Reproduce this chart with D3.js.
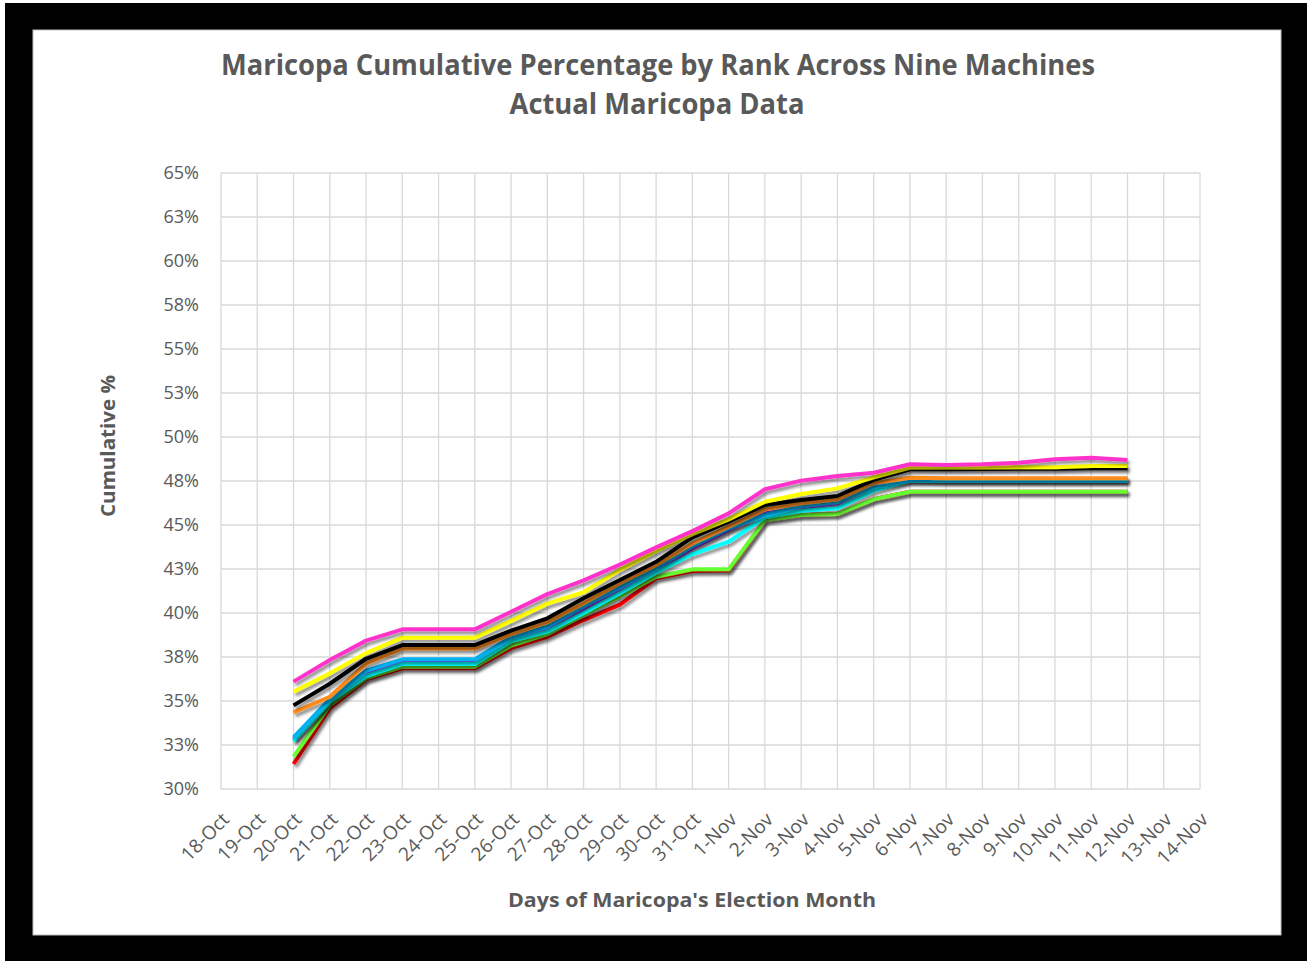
<!DOCTYPE html>
<html lang="en">
<head>
<meta charset="utf-8" />
<title>Maricopa Cumulative Percentage by Rank</title>
<style>
html,body{margin:0;background:#fff}
svg{display:block}
.tick text{font-family:"Open Sans",sans-serif;fill:#595959}
</style>
<script src="https://cdn.jsdelivr.net/npm/d3@7/dist/d3.min.js"></script>
</head>
<body>
<div id="chart"></div>
<script>
/* ---------------------------- data ------------------------------------ */
const dates = ["18-Oct","19-Oct","20-Oct","21-Oct","22-Oct","23-Oct","24-Oct","25-Oct",
  "26-Oct","27-Oct","28-Oct","29-Oct","30-Oct","31-Oct","1-Nov","2-Nov","3-Nov","4-Nov",
  "5-Nov","6-Nov","7-Nov","8-Nov","9-Nov","10-Nov","11-Nov","12-Nov","13-Nov","14-Nov"];

// series run 20-Oct .. 12-Nov
const seriesDates = dates.slice(2, 26);

const yTicks = [30, 32.5, 35, 37.5, 40, 42.5, 45, 47.5, 50, 52.5, 55, 57.5, 60, 62.5, 65];

const rank9 = [31.42, 34.58, 36.23, 36.86, 36.86, 36.86, 38.0, 38.65, 39.6, 40.48, 41.97, 42.38, 42.42,
  45.28, 45.57, 45.63, 46.46, 46.89, 46.89, 46.89, 46.89, 46.89, 46.89, 46.89];
const rank8 = [31.84, 34.77, 36.3, 36.95, 36.95, 36.95, 38.15, 38.8, 39.9, 40.95, 42.06, 42.48, 42.48,
  45.28, 45.57, 45.63, 46.46, 46.89, 46.89, 46.89, 46.89, 46.89, 46.89, 46.89];
const rank7 = [32.72, 34.96, 36.42, 37.1, 37.1, 37.1, 38.4, 38.94, 40.0, 41.12, 42.3, 43.35, 44.05,
  45.44, 45.81, 45.95, 46.95, 47.52, 47.5, 47.5, 47.5, 47.5, 47.5, 47.5];
const rank6 = [32.8, 34.98, 36.57, 37.3, 37.3, 37.3, 38.55, 39.15, 40.22, 41.3, 42.44, 43.68, 44.72,
  45.66, 46.0, 46.23, 47.27, 47.62, 47.6, 47.6, 47.6, 47.6, 47.6, 47.6];
const rank5 = [32.94, 35.1, 36.72, 37.37, 37.37, 37.37, 38.62, 39.22, 40.38, 41.45, 42.54, 43.8, 44.8,
  45.57, 46.08, 46.3, 47.18, 47.55, 47.53, 47.53, 47.53, 47.53, 47.53, 47.53];
const rank4 = [34.35, 35.24, 37.12, 37.99, 37.99, 37.99, 38.78, 39.48, 40.55, 41.69, 42.73, 43.95, 44.9,
  45.89, 46.23, 46.46, 47.37, 47.68, 47.66, 47.66, 47.66, 47.66, 47.66, 47.66];
const rank3 = [34.75, 35.98, 37.4, 38.18, 38.18, 38.18, 39.0, 39.7, 40.84, 41.88, 42.91, 44.3, 45.19,
  46.14, 46.42, 46.65, 47.56, 48.17, 48.17, 48.18, 48.19, 48.2, 48.22, 48.22];
const rank2 = [35.53, 36.57, 37.72, 38.6, 38.6, 38.6, 39.55, 40.53, 41.18, 42.45, 43.52, 44.48, 45.32,
  46.32, 46.76, 47.08, 47.71, 48.26, 48.26, 48.27, 48.28, 48.28, 48.35, 48.35];
const rank1 = [36.1, 37.33, 38.43, 39.07, 39.07, 39.07, 40.07, 41.07, 41.85, 42.75, 43.73, 44.65, 45.66,
  47.03, 47.52, 47.78, 47.97, 48.45, 48.41, 48.45, 48.54, 48.73, 48.82, 48.69];

// bottom-most drawn first
const series = [
  {name: "Rank 9", color: "#ff0000", values: rank9},
  {name: "Rank 8", color: "#66ff33", values: rank8},
  {name: "Rank 6", color: "#9933ff", values: rank6},
  {name: "Rank 7", color: "#00ffff", values: rank7},
  {name: "Rank 5", color: "#00b0f0", values: rank5},
  {name: "Rank 4", color: "#ff8c1a", values: rank4},
  {name: "Rank 3", color: "#000000", values: rank3},
  {name: "Rank 2", color: "#ffff00", values: rank2},
  {name: "Rank 1", color: "#ff33cc", values: rank1}
];

/* ---------------------------- layout ---------------------------------- */
const W = 1312, H = 961;
const plot = {left: 221, right: 1200, top: 173, bottom: 789};

const svg = d3.select("#chart").append("svg")
  .attr("width", W).attr("height", H);

const defs = svg.append("defs");
defs.append("filter").attr("id", "shadow")
    .attr("x", "-10%").attr("y", "-10%").attr("width", "130%").attr("height", "130%")
  .append("feDropShadow")
    .attr("dx", 2).attr("dy", 3).attr("stdDeviation", 1.8)
    .attr("flood-color", "#000").attr("flood-opacity", 0.45);

// black frame + white chart area
svg.append("rect").attr("x", 5).attr("y", 3).attr("width", 1302).attr("height", 958).attr("fill", "#000");
svg.append("rect").attr("x", 33).attr("y", 30).attr("width", 1248).attr("height", 905)
  .attr("fill", "#fff").attr("stroke", "#bfbfbf").attr("stroke-width", 1);

const x = d3.scalePoint().domain(dates).range([plot.left, plot.right]);
const y = d3.scaleLinear().domain([30, 65]).range([plot.bottom, plot.top]);

/* ---------------------------- grid ------------------------------------ */
const grid = svg.append("g").attr("stroke", "#d9d9d9").attr("stroke-width", 1.3);
grid.selectAll("line.h").data(yTicks).join("line").attr("class", "h")
  .attr("x1", plot.left).attr("x2", plot.right)
  .attr("y1", d => y(d)).attr("y2", d => y(d));
grid.selectAll("line.v").data(dates).join("line").attr("class", "v")
  .attr("x1", d => x(d)).attr("x2", d => x(d))
  .attr("y1", plot.top).attr("y2", plot.bottom);

/* ---------------------------- axes ------------------------------------ */
const yAxis = svg.append("g")
  .attr("transform", `translate(${plot.left},0)`)
  .call(d3.axisLeft(y).tickValues(yTicks).tickSize(0).tickPadding(22)
          .tickFormat(d => Math.round(d) + "%"));
yAxis.select(".domain").remove();
yAxis.selectAll("text").attr("font-size", 18);

const xAxis = svg.append("g")
  .attr("transform", `translate(0,${plot.bottom})`)
  .call(d3.axisBottom(x).tickSize(0));
xAxis.select(".domain").remove();
xAxis.selectAll("text")
  .attr("font-size", 19)
  .attr("text-anchor", "end")
  .attr("dy", "0.35em")
  .attr("transform", "translate(2,25) rotate(-45)");

/* ---------------------------- lines ----------------------------------- */
const line = d3.line()
  .x((d, i) => x(seriesDates[i]))
  .y(d => y(d));

svg.append("g").selectAll("path").data(series).join("path")
  .attr("d", d => line(d.values))
  .attr("fill", "none")
  .attr("stroke", d => d.color)
  .attr("stroke-width", 4)
  .attr("stroke-linejoin", "round")
  .attr("filter", "url(#shadow)");

/* ---------------------------- titles ---------------------------------- */
const title = svg.append("g")
  .attr("font-family", "'Open Sans',sans-serif")
  .attr("font-weight", 700)
  .attr("fill", "#595959")
  .attr("text-anchor", "middle");

title.append("text").attr("x", 658).attr("y", 75).attr("font-size", 28)
  .attr("textLength", 874).attr("lengthAdjust", "spacingAndGlyphs")
  .text("Maricopa Cumulative Percentage by Rank Across Nine Machines");
title.append("text").attr("x", 657).attr("y", 114).attr("font-size", 28)
  .attr("textLength", 295).attr("lengthAdjust", "spacingAndGlyphs")
  .text("Actual Maricopa Data");

title.append("text")
  .attr("transform", "translate(115,446) rotate(-90)")
  .attr("font-size", 20)
  .attr("textLength", 142).attr("lengthAdjust", "spacingAndGlyphs")
  .text("Cumulative %");

title.append("text").attr("x", 692).attr("y", 907).attr("font-size", 20)
  .attr("textLength", 368).attr("lengthAdjust", "spacingAndGlyphs")
  .text("Days of Maricopa's Election Month");
</script>
</body>
</html>
